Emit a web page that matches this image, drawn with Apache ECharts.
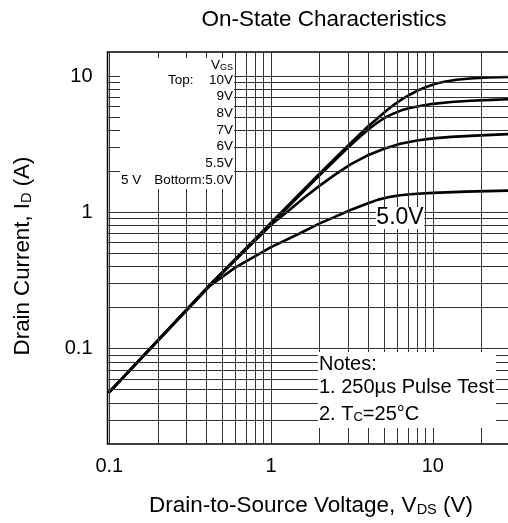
<!DOCTYPE html>
<html><head><meta charset="utf-8">
<script src="https://cdn.jsdelivr.net/npm/echarts@6/dist/echarts.min.js"></script>
<style>html,body{margin:0;padding:0;background:#fff}#c{width:508px;height:523px}</style>
</head><body><div id="c"></div>
<script>
// ---- data ----
const vds10V = [0.1, 0.42, 1.0, 2.0, 3.0, 4.0, 4.6, 5.2, 5.8, 6.5, 7.3, 8.2, 9.2, 10.5, 12, 14, 17, 22, 30];
const id10V  = [0.048, 0.295, 0.84, 1.93, 3.1, 4.3, 4.95, 5.6, 6.2, 6.8, 7.35, 7.9, 8.35, 8.8, 9.1, 9.4, 9.6, 9.75, 9.85];
const vds7V  = [0.1, 0.42, 1.0, 2.0, 3.0, 3.6, 4.1, 4.6, 5.1, 5.7, 6.4, 7.3, 8.5, 10, 13, 17, 23, 30];
const id7V   = [0.048, 0.295, 0.82, 1.88, 3.0, 3.65, 4.15, 4.6, 4.98, 5.3, 5.6, 5.85, 6.05, 6.25, 6.45, 6.58, 6.68, 6.76];
const vds6V  = [0.1, 0.42, 1.0, 1.3, 1.6, 2.0, 2.5, 3.1, 3.9, 5.0, 6.3, 8.0, 10, 13, 17, 23, 30];
const id6V   = [0.048, 0.293, 0.81, 1.04, 1.28, 1.57, 1.9, 2.25, 2.6, 2.93, 3.18, 3.37, 3.49, 3.58, 3.64, 3.7, 3.75];
const vds5V  = [0.1, 0.42, 0.6, 1.0, 1.5, 2.0, 2.5, 3.1, 3.9, 4.6, 5.3, 5.8, 6.3, 7.0, 8.0, 10, 16, 30];
const id5V   = [0.048, 0.29, 0.393, 0.556, 0.70, 0.83, 0.93, 1.04, 1.155, 1.24, 1.29, 1.315, 1.335, 1.353, 1.37, 1.39, 1.42, 1.445];

const xGridValues = [0.1,0.2,0.3,0.4,0.5,0.6,0.7,0.8,0.9,1,2,3,4,5,6,7,8,9,10,20];
const yGridValues = [0.03,0.04,0.05,0.06,0.07,0.08,0.09,0.1,0.2,0.3,0.4,0.5,0.6,0.7,0.8,0.9,1,2,3,4,5,6,7,8,9,10];
const decadeLabels = ['0.1', '1', '10'];

const vgsLevels = ['10V', '9V', '8V', '7V', '6V', '5.5V'];
const vgsBottom = 'Bottorm:5.0V';
const notesLines = ['Notes:', '1. 250µs Pulse Test'];

// ---- chart ----
const FF = 'Liberation Sans, Arial, Helvetica, sans-serif';
function pairs(xs, ys) { return xs.map((x, i) => [x, ys[i]]); }
function decadeFmt(v) {
  const l = Math.log10(v), r = Math.round(l);
  if (Math.abs(l - r) > 1e-6) return '';
  const s = String(Math.pow(10, r) >= 1 ? Math.round(Math.pow(10, r)) : Math.pow(10, r).toFixed(-r));
  return decadeLabels.indexOf(s) >= 0 ? s : '';
}
function curve(name, xs, ys) {
  return { type: 'line', name: name, data: pairs(xs, ys), showSymbol: false, symbol: 'none',
    smooth: false, lineStyle: { color: '#000', width: 2.6, join: 'round', cap: 'round' }, z: 3, silent: true };
}

const chart = echarts.init(document.getElementById('c'), null, { renderer: 'canvas' });
const legendRowsY = [80.7, 96.7, 113.3, 130.7, 146, 163.3];
const graphics = [
  { type: 'rect', z: 50, shape: { x: 120, y: 58, width: 114, height: 131 }, style: { fill: '#fff' } },
  { type: 'rect', z: 50, shape: { x: 318, y: 352, width: 178, height: 76 }, style: { fill: '#fff' } },
  { type: 'rect', z: 50, shape: { x: 376, y: 207, width: 48, height: 22 }, style: { fill: '#fff' } },
  { type: 'text', z: 60, x: 324, y: 20, style: { text: 'On-State Characteristics', fontSize: 22.5, fontFamily: FF, fill: '#000', align: 'center', verticalAlign: 'middle' } },
  { type: 'text', z: 60, x: 311, y: 506, style: { text: 'Drain-to-Source Voltage, V{s|DS} (V)', fontSize: 22.5, fontFamily: FF, fill: '#000', align: 'center', verticalAlign: 'middle',
      rich: { s: { fontSize: 14.5, fontFamily: FF, verticalAlign: 'bottom', lineHeight: 14 } } } },
  { type: 'text', z: 60, x: 23, y: 256, rotation: Math.PI / 2, style: { text: 'Drain Current, I{s|D} (A)', fontSize: 22.3, fontFamily: FF, fill: '#000', align: 'center', verticalAlign: 'middle',
      rich: { s: { fontSize: 14.5, fontFamily: FF, verticalAlign: 'bottom', lineHeight: 14 } } } },
  { type: 'text', z: 60, x: 233, y: 65, style: { text: 'V{s|GS}', fontSize: 13.5, fontFamily: FF, fill: '#000', align: 'right', verticalAlign: 'middle',
      rich: { s: { fontSize: 9, fontFamily: FF, verticalAlign: 'bottom', lineHeight: 9 } } } },
  { type: 'text', z: 60, x: 168, y: 80.7, style: { text: 'Top:', fontSize: 13.5, fontFamily: FF, fill: '#000', align: 'left', verticalAlign: 'middle' } },
  { type: 'text', z: 60, x: 121, y: 180, style: { text: '5 V', fontSize: 13.5, fontFamily: FF, fill: '#000', align: 'left', verticalAlign: 'middle' } },
  { type: 'text', z: 60, x: 233, y: 180, style: { text: vgsBottom, fontSize: 13.5, fontFamily: FF, fill: '#000', align: 'right', verticalAlign: 'middle' } },
  { type: 'text', z: 60, x: 400, y: 218, style: { text: '5.0V', fontSize: 23, fontFamily: FF, fill: '#000', align: 'center', verticalAlign: 'middle' } },
  { type: 'text', z: 60, x: 319, y: 364, style: { text: notesLines[0], fontSize: 20, fontFamily: FF, fill: '#000', align: 'left', verticalAlign: 'middle' } },
  { type: 'text', z: 60, x: 319, y: 387.5, style: { text: notesLines[1], fontSize: 20, fontFamily: FF, fill: '#000', align: 'left', verticalAlign: 'middle' } },
  { type: 'text', z: 60, x: 319, y: 414, style: { text: '2. T{s|C}=25°C', fontSize: 20, fontFamily: FF, fill: '#000', align: 'left', verticalAlign: 'middle',
      rich: { s: { fontSize: 13, fontFamily: FF, verticalAlign: 'bottom', lineHeight: 13 } } } }
];
vgsLevels.forEach((t, i) => {
  graphics.push({ type: 'text', z: 60, x: 233, y: legendRowsY[i], style: { text: t, fontSize: 13.5, fontFamily: FF, fill: '#000', align: 'right', verticalAlign: 'middle' } });
});

chart.setOption({
  animation: false,
  backgroundColor: '#fff',
  grid: { left: 107.5, top: 52, width: 402.5, height: 392, show: true, borderColor: '#000', borderWidth: 1.5, backgroundColor: 'transparent', containLabel: false, outerBoundsMode: 'none' },
  xAxis: {
    type: 'log', logBase: 10, min: 0.0975, max: 30,
    axisLine: { show: false }, axisTick: { show: false }, splitLine: { show: false }, minorTick: { show: false },
    axisLabel: { formatter: decadeFmt, fontSize: 20, fontFamily: FF, color: '#000', margin: 12, showMinLabel: false, showMaxLabel: false }
  },
  yAxis: {
    type: 'log', logBase: 10, min: 0.02, max: 15,
    axisLine: { show: false }, axisTick: { show: false }, splitLine: { show: false }, minorTick: { show: false },
    axisLabel: { formatter: decadeFmt, fontSize: 20, fontFamily: FF, color: '#000', margin: 15, showMinLabel: false, showMaxLabel: false }
  },
  graphic: graphics,
  series: [
    { type: 'line', name: 'grid', data: [], silent: true, z: 1,
      markLine: { silent: true, symbol: ['none', 'none'], label: { show: false }, animation: false,
        lineStyle: { color: '#333', width: 1, type: 'solid' }, emphasis: { disabled: true },
        data: xGridValues.map(v => ({ xAxis: v })).concat(yGridValues.map(v => ({ yAxis: v }))) } },
    curve('VGS 10V', vds10V, id10V),
    curve('VGS 7V', vds7V, id7V),
    curve('VGS 6V', vds6V, id6V),
    curve('VGS 5.0V', vds5V, id5V)
  ]
});
</script></body></html>
